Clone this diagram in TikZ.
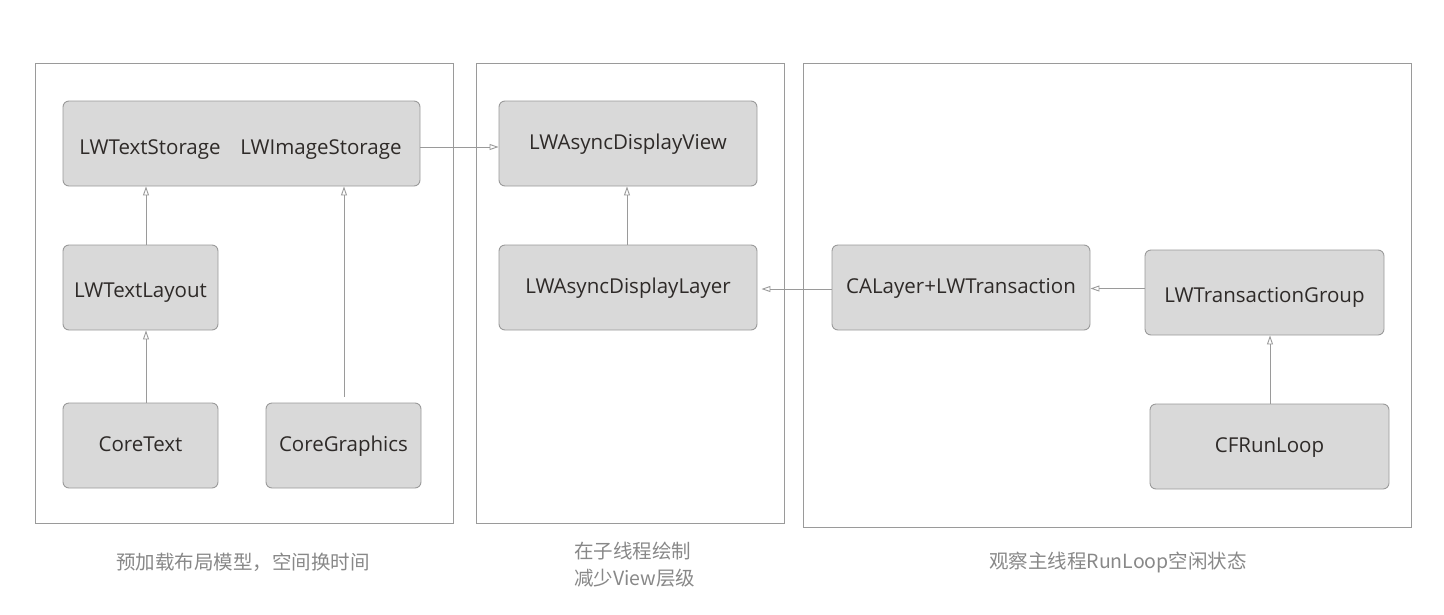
\documentclass[tikz,border=0pt]{standalone}
\usepackage{fontspec}
\setmainfont{Open Sans}
\newfontfamily\cjk{Noto Sans CJK SC}
\usetikzlibrary{arrows.meta}
\definecolor{boxfill}{HTML}{D9D9D9}
\definecolor{boxline}{HTML}{9A9A9A}
\definecolor{txt}{HTML}{2E2A28}
\definecolor{lbl}{HTML}{888888}
\tikzset{
  frame/.style={draw=boxline, line width=0.9pt},
  comp/.style={draw=boxline, fill=boxfill, rounded corners=6pt, line width=0.9pt, text=txt, font=\fontsize{20.5}{24}\selectfont, inner sep=0pt, text height=16pt, text depth=5pt},
  lower/.style={text height=25pt},
  lw/.style={text=txt, font=\fontsize{20.5}{24}\selectfont, inner sep=0pt, text height=16pt, text depth=5pt},
  link/.style={draw=boxline, line width=0.9pt, -{Triangle[open, length=9pt, width=6pt]}},
  caption/.style={text=lbl, font=\cjk\fontsize{19.5}{27}\selectfont, inner sep=0pt}
}
\begin{document}
\begin{tikzpicture}[x=1pt, y=-1pt]
\useasboundingbox (0,0) rectangle (1444,614);
% frames
\draw[frame] (35,63) rectangle (453,523);
\draw[frame] (476,63) rectangle (784,523);
\draw[frame] (803,63) rectangle (1411,527);
% components
\node[comp, minimum width=357pt, minimum height=85pt] (stor) at (241.5,143.5) {};
\node[lw] (ts) at (150,148.8) {LWTextStorage};
\node[lw] (is) at (321,148.8) {LWImageStorage};
\node[comp, lower, minimum width=155pt, minimum height=85pt] (layout) at (140.5,287.5) {LWTextLayout};
\node[comp, minimum width=155pt, minimum height=85pt] (ct) at (140.5,445.5) {CoreText};
\node[comp, minimum width=155pt, minimum height=85pt] (cg) at (343.5,445.5) {CoreGraphics};
\node[comp, minimum width=258pt, minimum height=85pt] (view) at (628,143.5) {LWAsyncDisplayView};
\node[comp, minimum width=258pt, minimum height=85pt] (layer) at (628,287.5) {LWAsyncDisplayLayer};
\node[comp, minimum width=258pt, minimum height=85pt] (cal) at (961,287.5) {CALayer+LWTransaction};
\node[comp, lower, minimum width=239pt, minimum height=85pt] (grp) at (1264.5,292.5) {LWTransactionGroup};
\node[comp, minimum width=239pt, minimum height=85pt] (rl) at (1269.5,446.5) {CFRunLoop};
% connectors
\draw[link] (layout.north -| ts) ++(-4,0) coordinate (a1) -- (a1 |- stor.south);
\draw[link] (ct.north) ++(5.5,0) coordinate (a2) -- (a2 |- layout.south);
\draw[link] (cg.north) ++(0.5,-6) coordinate (a3) -- (a3 |- stor.south);
\draw[link] (stor.east) ++(0,3.5) coordinate (a4) -- (a4 -| view.west);
\draw[link] (layer.north) ++(-1,0) coordinate (a5) -- (a5 |- view.south);
\draw[link] (cal.west) ++(0,1.5) coordinate (a6) -- ([xshift=4pt]a6 -| layer.east);
\draw[link] (grp.west) ++(0,-4) coordinate (a7) -- (a7 -| cal.east);
\draw[link] (rl.north) ++(0.5,0) coordinate (a8) -- (a8 |- grp.south);
% captions
\node[caption] (c1) at (243,562) {预加载布局模型，空间换时间};
\node[caption, align=left, anchor=west] (c2) at (574,564.5) {在子线程绘制\\减少View层级};
\node[caption] (c3) at (1118,562) {观察主线程RunLoop空闲状态};
\end{tikzpicture}
\end{document}
